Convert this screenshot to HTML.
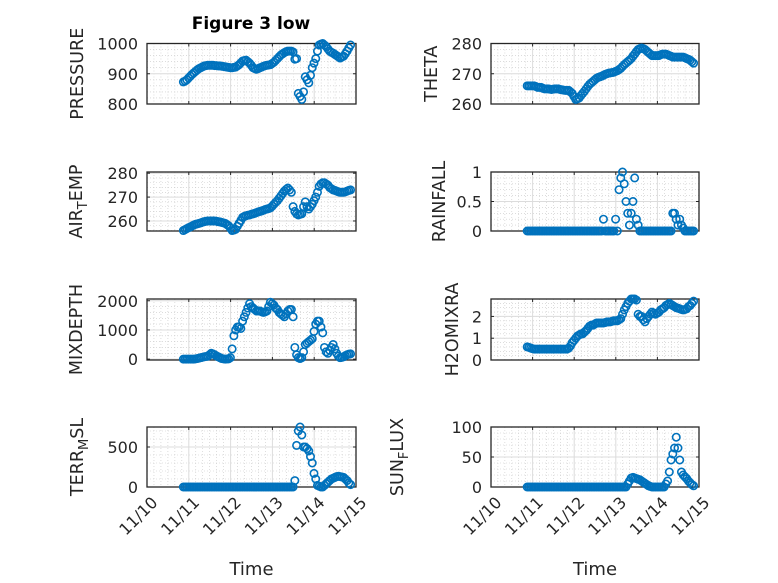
<!DOCTYPE html>
<html><head><meta charset="utf-8"><style>
html,body{margin:0;padding:0;background:#fff;}
svg{display:block;font-family:"DejaVu Sans","Liberation Sans",sans-serif;}
</style></head><body>
<svg id="fig" width="778" height="583" viewBox="0 0 778 583">
<rect width="778" height="583" fill="#fff"/>
<text x="251" y="29" text-anchor="middle" font-weight="bold" font-size="17" fill="#000">Figure 3 low</text>
</svg>
<script>
// hourly samples; time = days after 11/10 00:00
const startDay = 0.87;
const xTickLabels = ["11/10","11/11","11/12","11/13","11/14","11/15"];
const pressure = [873,876,880,886,892,898,903,908,913,917,920,923,926,927,928,928,928,928,927,927,926,926,925,924,923,922,921,920,920,921,922,926,930,936,942,944,945,940,935,928,920,917,915,917,920,922,925,927,928,929,930,934,938,944,950,956,962,966,970,973,975,975,975,972,948,950,835,825,815,840,890,880,870,895,920,935,950,975,995,998,1000,995,990,982,975,971,968,964,960,956,952,955,958,966,975,985,995];
const theta = [266,266,266,266,266,265.8,265.5,265.5,265.5,265.2,265,265,265,264.9,264.8,264.9,265,265,265,264.8,264.7,264.6,264.5,264.5,264.5,264,263.5,262.5,261.5,261.7,262,262.8,263.5,264.2,265,265.8,266.5,267,267.5,268,268.5,268.8,269,269.2,269.5,269.8,270,270.2,270.3,270.4,270.5,270.8,271,271.4,271.8,272.4,273,273.5,274,274.5,275,275.8,276.5,277.3,278,278.3,278.5,278.3,278,277.5,277,276.5,276,276,276,276,276,276.3,276.5,276.5,276.5,276.3,276,275.8,275.5,275.5,275.5,275.5,275.5,275.5,275.5,275.3,275,274.8,274.5,274,273.5];
const airTemp = [256,256.4,256.8,257.2,257.5,257.9,258.3,258.6,258.8,259,259.2,259.5,259.7,259.9,260,260,260,260,260,259.9,259.7,259.6,259.4,259.2,259,258.5,258,257,256,256.2,256.5,257.8,259,260.2,261.5,261.9,262.2,262.4,262.5,262.8,263,263.2,263.5,263.8,264,264.2,264.5,264.8,265,265.2,265.5,266.2,267,267.8,268.5,269.5,270.5,271.5,272.5,273.2,273.8,273,272,266,264,263,262.5,262.8,263,266,268,266,265,266,267,268.5,270,272,274.5,275.5,276,276,275.5,275,274,273.5,273,272.8,272.5,272.2,272,272,272,272.2,272.5,272.8,273];
const rainfall = [0,0,0,0,0,0,0,0,0,0,0,0,0,0,0,0,0,0,0,0,0,0,0,0,0,0,0,0,0,0,0,0,0,0,0,0,0,0,0,0,0,0,0,0,0.2,0,0,0,0,0,0,0.2,0,0.7,0.9,1.0,0.8,0.5,0.3,0.1,0.3,0.5,0.9,0.2,0.1,0,0,0,0,0,0,0,0,0,0,0,0,0,0,0,0,0,0,0,0.3,0.3,0.2,0.1,0.2,0.1,0.05,0,0,0,0,0,0];
const mixDepth = [0,0,0,0,0,0,0,10,20,35,50,65,80,90,100,150,200,180,150,110,80,50,20,10,0,5,10,50,350,800,1000,1100,1100,1050,1300,1450,1600,1750,1900,1800,1750,1700,1650,1650,1650,1620,1600,1620,1650,1800,1950,1900,1850,1750,1700,1600,1550,1500,1450,1550,1650,1700,1700,1450,400,150,50,20,50,250,500,550,600,650,700,950,1200,1300,1300,1100,900,400,250,200,300,400,500,350,200,100,50,60,80,120,150,170,180];
const h2oMix = [0.6,0.58,0.55,0.52,0.5,0.5,0.5,0.5,0.5,0.5,0.5,0.5,0.5,0.5,0.5,0.5,0.5,0.5,0.5,0.5,0.5,0.5,0.5,0.5,0.55,0.65,0.8,0.9,1.0,1.1,1.15,1.2,1.2,1.28,1.35,1.45,1.55,1.6,1.6,1.65,1.7,1.7,1.7,1.7,1.7,1.72,1.75,1.75,1.75,1.78,1.8,1.8,1.8,1.85,1.9,2.1,2.3,2.45,2.6,2.7,2.8,2.8,2.8,2.75,2.1,2.0,2.0,1.85,1.75,1.9,2.0,2.1,2.2,2.15,2.1,2.15,2.2,2.3,2.35,2.4,2.5,2.55,2.6,2.55,2.5,2.45,2.4,2.38,2.35,2.32,2.3,2.32,2.35,2.45,2.5,2.6,2.7];
const terrMsl = [0,0,0,0,0,0,0,0,0,0,0,0,0,0,0,0,0,0,0,0,0,0,0,0,0,0,0,0,0,0,0,0,0,0,0,0,0,0,0,0,0,0,0,0,0,0,0,0,0,0,0,0,0,0,0,0,0,0,0,0,0,0,0,0,80,520,700,750,650,500,500,480,450,380,300,170,100,20,10,0,0,20,40,60,80,100,110,120,130,135,130,125,120,100,80,50,30];
const sunFlux = [0,0,0,0,0,0,0,0,0,0,0,0,0,0,0,0,0,0,0,0,0,0,0,0,0,0,0,0,0,0,0,0,0,0,0,0,0,0,0,0,0,0,0,0,0,0,0,0,0,0,0,0,0,0,0,0,0,0,5,10,15,16,15,14,13,12,10,8,6,4,2,1,0,0,0,0,0,0,0,0,5,10,25,45,55,65,83,65,45,25,20,17,14,10,7,4,2];

const pressureTicks = [800,900,1000];
const thetaTicks = [260,270,280];
const airTicks = [260,270,280];
const rainTicks = [0,0.5,1];
const mixTicks = [0,1000,2000];
const h2oTicks = [0,1,2];
const terrTicks = [0,500];
const sunTicks = [0,50,100];

const NS = "http://www.w3.org/2000/svg";
const svg = document.getElementById("fig");
function mk(tag, attrs, parent) {
  const e = document.createElementNS(NS, tag);
  for (const k in attrs) e.setAttribute(k, attrs[k]);
  (parent || svg).appendChild(e);
  return e;
}
const cols = [[147,356],[491,699]];
const rows = [[43.5,104],[172,231],[299,360],[427,487]];
const panels = [
  {id:"pressure", c:0, r:0, data:pressure, ticks:pressureTicks, ymin:800, ymax:1000, minor:20, label:["PRESSURE"], lx:77},
  {id:"theta", c:1, r:0, data:theta, ticks:thetaTicks, ymin:260, ymax:280, minor:2, label:["THETA"], lx:431},
  {id:"air-temp", c:0, r:1, data:airTemp, ticks:airTicks, ymin:255.8, ymax:280.5, minor:2, label:["AIR","T","EMP"], lx:76},
  {id:"rainfall", c:1, r:1, data:rainfall, ticks:rainTicks, ymin:0, ymax:1, minor:0.1, label:["RAINFALL"], lx:439},
  {id:"mixdepth", c:0, r:2, data:mixDepth, ticks:mixTicks, ymin:-30, ymax:2060, minor:200, label:["MIXDEPTH"], lx:76},
  {id:"h2omixra", c:1, r:2, data:h2oMix, ticks:h2oTicks, ymin:0, ymax:2.8, minor:0.2, label:["H2OMIXRA"], lx:452},
  {id:"terr-msl", c:0, r:3, data:terrMsl, ticks:terrTicks, ymin:0, ymax:750, minor:100, label:["TERR","M","SL"], lx:77},
  {id:"sun-flux", c:1, r:3, data:sunFlux, ticks:sunTicks, ymin:0, ymax:100, minor:10, label:["SUN","F","LUX"], lx:397}
];

panels.forEach(p => {
  const [L,R] = cols[p.c], [T,B] = rows[p.r];
  const xs = t => L + (R - L) * t / 5;
  const ys = v => B - (B - T) * (v - p.ymin) / (p.ymax - p.ymin);
  const g = mk("g", {});
  
  
  for (let k = 1; k < 30; k++) {
    if (k % 6 === 0) continue;
    const x = xs(k / 6);
    mk("line", {x1:x, x2:x, y1:T, y2:B, stroke:"#c8c8c8", "stroke-width":0.6, "stroke-dasharray":"1,2"}, g);
  }
  for (let v = Math.ceil(p.ymin / p.minor) * p.minor; v <= p.ymax + 1e-9; v += p.minor) {
    const y = ys(v);
    mk("line", {x1:L, x2:R, y1:y, y2:y, stroke:"#c8c8c8", "stroke-width":0.6, "stroke-dasharray":"1,2"}, g);
  }
  for (let k = 1; k < 5; k++) {
    const x = xs(k);
    mk("line", {x1:x, x2:x, y1:T, y2:B, stroke:"#dcdcdc", "stroke-width":1}, g);
  }
  p.ticks.forEach(v => {
    const y = ys(v);
    mk("line", {x1:L, x2:R, y1:y, y2:y, stroke:"#dcdcdc", "stroke-width":1}, g);
    mk("line", {x1:L, x2:L + 3, y1:y, y2:y, stroke:"#262626", "stroke-width":1}, g);
    mk("line", {x1:R - 3, x2:R, y1:y, y2:y, stroke:"#262626", "stroke-width":1}, g);
    const t = mk("text", {x:L - 9, y:y + 6, "text-anchor":"end", "font-size":16, fill:"#262626"}, g);
    t.textContent = String(v);
    
    
  });
  for (let k = 0; k <= 5; k++) {
    const x = xs(k);
    mk("line", {x1:x, x2:x, y1:B, y2:B - 3, stroke:"#262626", "stroke-width":1}, g);
    mk("line", {x1:x, x2:x, y1:T, y2:T + 3, stroke:"#262626", "stroke-width":1}, g);
  }
  mk("rect", {x:L, y:T, width:R - L, height:B - T, fill:"none", stroke:"#262626", "stroke-width":1.3}, g);
  p.data.forEach((v, i) => {
    const c = mk("circle", {cx:xs(startDay + i / 24), cy:ys(v), r:3.7, fill:"none", stroke:"#0072BD", "stroke-width":1.6}, g);
    
    
  });
  const cy = (T + B) / 2;
  const lt = mk("text", {transform:"translate(" + p.lx + "," + cy + ") rotate(-90)", "text-anchor":"middle", "font-size":17.5, fill:"#262626"});
  
  
  if (p.label.length === 1) {
    lt.setAttribute("dy", "6");
    lt.textContent = p.label[0];
  } else {
    const a = mk("tspan", {dy:"6"}, lt); a.textContent = p.label[0];
    const b = mk("tspan", {dy:"5", "font-size":13}, lt); b.textContent = p.label[1];
    const c2 = mk("tspan", {dy:"-5"}, lt); c2.textContent = p.label[2];
  }
  if (p.r === 3) {
    xTickLabels.forEach((s, k) => {
      const x = xs(k);
      const t = mk("text", {transform:"translate(" + (x + 8) + "," + (B + 13) + ") rotate(-45)", "text-anchor":"end", "font-size":16, fill:"#262626", dy:"5"});
      t.textContent = s;
      
      
    });
    const tt = mk("text", {x:(L + R) / 2, y:575, "text-anchor":"middle", "font-size":18, fill:"#262626"});
    tt.textContent = "Time";
    
    
  }
});
</script>
</body></html>
